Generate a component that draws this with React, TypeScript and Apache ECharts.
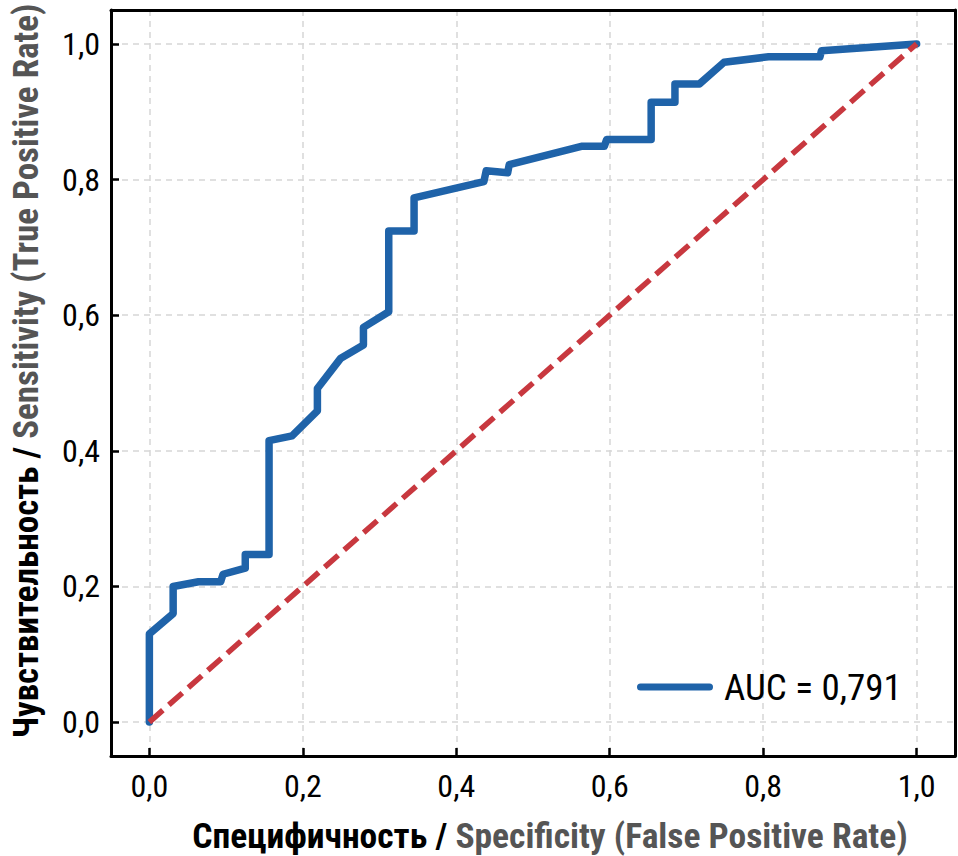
import React, { useEffect, useRef } from "react";
import * as echarts from "echarts";

const fpr = [0, 0, 0.031, 0.031, 0.064, 0.093, 0.096, 0.125, 0.125, 0.156, 0.156, 0.186, 0.219, 0.219, 0.249, 0.279, 0.279, 0.312, 0.312, 0.345, 0.345, 0.436, 0.439, 0.467, 0.469, 0.563, 0.593, 0.596, 0.654, 0.654, 0.685, 0.685, 0.717, 0.749, 0.807, 0.874, 0.876, 1.0];
const tpr = [0, 0.13, 0.16, 0.2, 0.207, 0.207, 0.218, 0.227, 0.247, 0.247, 0.415, 0.422, 0.459, 0.492, 0.536, 0.556, 0.582, 0.605, 0.724, 0.724, 0.773, 0.797, 0.813, 0.81, 0.822, 0.849, 0.849, 0.859, 0.859, 0.914, 0.914, 0.941, 0.941, 0.973, 0.981, 0.981, 0.99, 1.0];
const diagX = [0, 1];
const diagY = [0, 1];
const legendLabel = "AUC = 0,791";
const xTitleA = "Специфичность / ";
const xTitleB = "Specificity (False Positive Rate)";
const yTitleA = "Чувствительность / ";
const yTitleB = "Sensitivity (True Positive Rate)";

const FONT = "'Liberation Sans Narrow', 'Roboto Condensed', 'DejaVu Sans Condensed', 'Liberation Sans', sans-serif";

const fmt = (v: number) => {
  const k = v / 0.2;
  if (Math.abs(k - Math.round(k)) > 1e-6) return "";
  return (Math.round(k) * 0.2).toFixed(1).replace(".", ",");
};

export default function App() {
  const ref = useRef<HTMLDivElement>(null);
  useEffect(() => {
    const chart = echarts.init(ref.current!, null, { renderer: "svg" });
    const frameLine = { show: true, onZero: false, lineStyle: { color: "#000", width: 3 } };
    const axisCommon = {
      type: "value" as const,
      min: -0.05,
      max: 1.05,
      splitNumber: 5,
      axisLine: frameLine,
      axisTick: { show: true, inside: true, length: 8, lineStyle: { color: "#000", width: 2.5 } },
      splitLine: { show: true, lineStyle: { color: "#d6d6d6", width: 1.5, type: [6, 5] } },
      axisLabel: { formatter: fmt, color: "#000", fontSize: 32, fontFamily: FONT },
    };
    const frameAxis = {
      type: "value" as const,
      min: -0.05,
      max: 1.05,
      splitNumber: 5,
      axisLine: frameLine,
      axisTick: { show: false },
      splitLine: { show: false },
      axisLabel: { show: false },
    };
    const richX = {
      a: { fontFamily: FONT, fontWeight: "bold" as const, fontSize: 35.5, color: "#000" },
      b: { fontFamily: FONT, fontWeight: "bold" as const, fontSize: 35.5, color: "#555555" },
    };
    const richY = {
      a: { fontFamily: FONT, fontWeight: "bold" as const, fontSize: 35, color: "#000" },
      b: { fontFamily: FONT, fontWeight: "bold" as const, fontSize: 35, color: "#555555" },
    };
    chart.setOption({
      animation: false,
      backgroundColor: "#fff",
      grid: {
        left: 111,
        right: 3,
        top: 10,
        bottom: 100,
        show: false,
        containLabel: false,
        outerBoundsMode: "none",
      },
      xAxis: [
        {
          ...axisCommon,
          position: "bottom",
          axisLabel: { ...axisCommon.axisLabel, margin: 14 },
          name: `{a|${xTitleA}}{b|${xTitleB}}`,
          nameLocation: "middle",
          nameGap: 62,
          nameTextStyle: { rich: richX, padding: [0, 0, 0, 34] },
        },
        { ...frameAxis, position: "top" },
      ],
      yAxis: [
        {
          ...axisCommon,
          position: "left",
          axisLabel: { ...axisCommon.axisLabel, margin: 11 },
          name: `{a|${yTitleA}}{b|${yTitleB}}`,
          nameLocation: "middle",
          nameGap: 67,
          nameRotate: 90,
          nameTextStyle: { rich: richY, padding: [0, 0, 0, 24] },
        },
        { ...frameAxis, position: "right" },
      ],
      legend: {
        show: true,
        left: 637,
        top: 666,
        padding: 0,
        itemWidth: 76,
        itemHeight: 7,
        icon: "path://M3.5,0 H72.5 A3.5,3.5 0 0 1 72.5,7 H3.5 A3.5,3.5 0 0 1 3.5,0 Z",
        data: [{ name: legendLabel, itemStyle: { color: "#1f63a9" } }],
        textStyle: { fontFamily: FONT, fontSize: 37, color: "#000", lineHeight: 42, padding: [0, 0, 0, 6] },
      },
      series: [
        {
          name: legendLabel,
          type: "line",
          xAxisIndex: 0,
          yAxisIndex: 0,
          data: fpr.map((x, i) => [x, tpr[i]]),
          showSymbol: false,
          symbol: "none",
          lineStyle: { color: "#1f63a9", width: 7.5, cap: "round", join: "round" },
          itemStyle: { color: "#1f63a9" },
          z: 2,
        },
        {
          name: "diag",
          type: "line",
          xAxisIndex: 0,
          yAxisIndex: 0,
          data: diagX.map((x, i) => [x, diagY[i]]),
          showSymbol: false,
          symbol: "none",
          lineStyle: { color: "#c8383f", width: 5.5, type: [18, 8] },
          z: 3,
        },
      ],
    });
    return () => chart.dispose();
  }, []);
  return (
    <div
      ref={ref}
      style={{ position: "fixed", left: 0, top: 0, width: 958, height: 856, background: "#fff" }}
    />
  );
}
